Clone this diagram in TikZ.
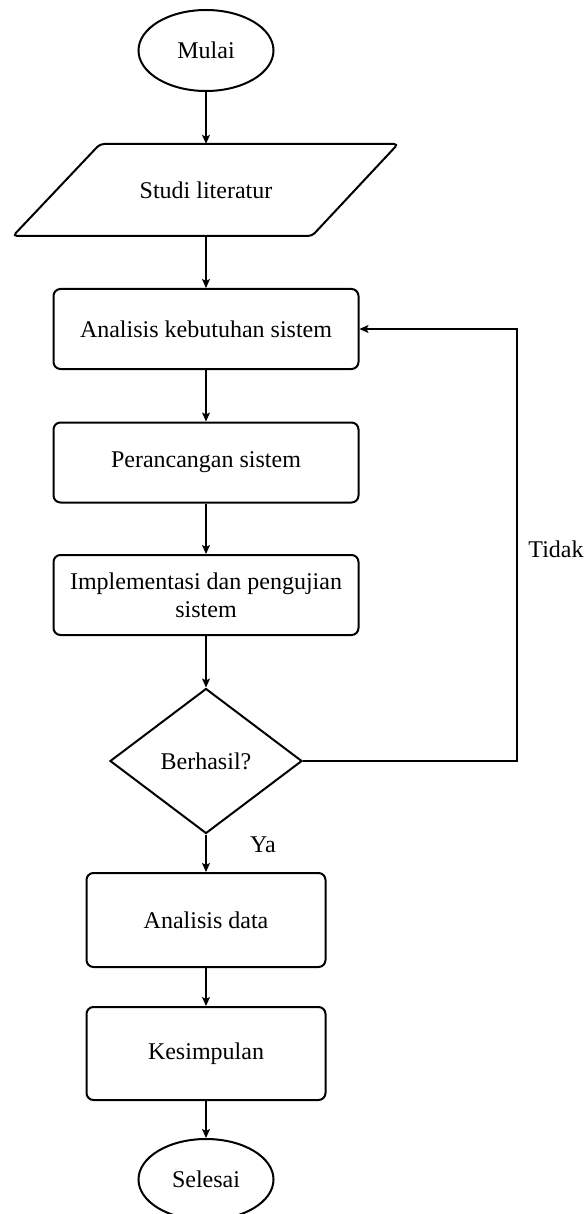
\documentclass[tikz,border=0pt]{standalone}
\usepackage{fontspec}
\setmainfont{Liberation Serif}
\usetikzlibrary{shapes.geometric,arrows.meta}
\begin{document}
\begin{tikzpicture}[x=1pt,y=-1pt,
  every node/.style={font=\fontsize{24}{28}\selectfont, inner sep=0pt},
  box/.style={draw, line width=2pt, rounded corners=7pt, minimum width=305pt, minimum height=80pt, align=center},
  smallbox/.style={draw, line width=2pt, rounded corners=7pt, minimum width=239pt, minimum height=94pt, align=center},
  term/.style={draw, ellipse, line width=2pt, minimum width=135pt, minimum height=81pt},
  decision/.style={draw, diamond, line width=2pt, minimum width=192pt, minimum height=145pt, aspect=1.32},
  arr/.style={line width=1.2pt, -{Stealth[length=9pt,width=8pt,inset=2pt]}},
  lbl/.style={font=\fontsize{24}{28}\selectfont}
]
\useasboundingbox (0,0) rectangle (586,1214);

\node[term] (mulai) at (206,50.5) {Mulai};
\node[minimum width=200pt, minimum height=92pt] (studi) at (206,190) {Studi literatur};
\draw[line width=2pt, rounded corners=4pt] (100,144) -- (398,144) -- (312,236) -- (13,236) -- cycle;
\node[box] (akb) at (206,329) {Analisis kebutuhan sistem};
\node[box] (per) at (206,462.5) {Perancangan sistem};
\node[box] (imp) at (206,595) {Implementasi dan pengujian\\sistem};
\node[decision] (dec) at (206,761) {Berhasil?};
\node[smallbox] (ad) at (206,920) {Analisis data};
\node[smallbox, minimum height=93pt] (kes) at (206,1053.5) {Kesimpulan};
\node[term] (sel) at (206,1179.5) {Selesai};

\draw[arr] (mulai) -- (studi);
\draw[arr] (studi) -- (akb);
\draw[arr] (akb) -- (per);
\draw[arr] (per) -- (imp);
\draw[arr] (imp) -- (dec);
\draw[arr] (dec) -- (ad);
\draw[arr] (ad) -- (kes);
\draw[arr] (kes) -- (sel);

\coordinate (fb) at (517,761);
\draw[arr] (dec.east) -- (fb) |- (akb.east);

\node[lbl] (ya) at (263,845) {Ya};
\node[lbl] (tidak) at (556,549) {Tidak};
\end{tikzpicture}
\end{document}
